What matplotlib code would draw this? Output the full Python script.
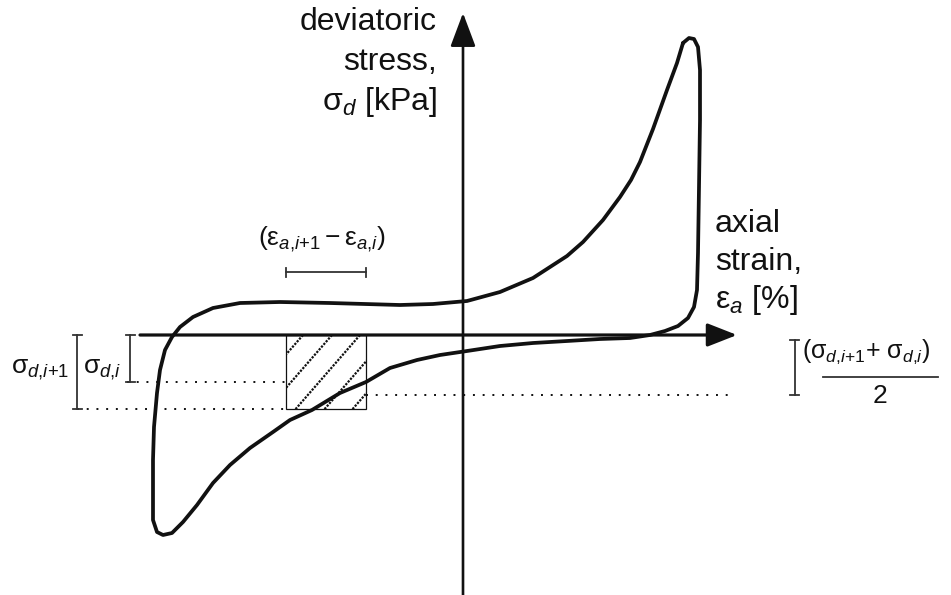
import numpy as np
import matplotlib
matplotlib.use('Agg')
import matplotlib.pyplot as plt
from matplotlib.patches import Rectangle

plt.rcParams['font.family'] = ['Liberation Sans', 'DejaVu Sans']
plt.rcParams['mathtext.fontset'] = 'custom'
plt.rcParams['mathtext.rm'] = 'Liberation Sans'
plt.rcParams['mathtext.it'] = 'Liberation Sans:italic'

# hysteresis loop (strain, stress) in sketch units
loop_strain = [2.18, 2.24, 2.29, 2.33, 2.35, 2.35, 2.34, 2.33, 2.32, 2.29, 2.23, 2.13, 2.00,
               1.85, 1.65, 1.35, 1.02, 0.68, 0.35, 0.02, -0.25, -0.48, -0.75, -0.99,
               -1.25, -1.53, -1.75, -1.92, -2.15, -2.35, -2.52, -2.68, -2.82, -2.93,
               -3.02, -3.08, -3.12, -3.12, -3.12, -3.11, -3.08, -3.05, -3.00, -2.93,
               -2.85, -2.72, -2.52, -2.25, -1.85, -1.35, -0.65, -0.32, 0.02, 0.35,
               0.68, 1.02, 1.18, 1.38, 1.55, 1.66, 1.75, 1.88, 2.02, 2.12, 2.18]
loop_stress = [2.92, 2.97, 2.96, 2.88, 2.65, 2.15, 1.48, 0.82, 0.45, 0.28, 0.17, 0.09, 0.04,
               0.00, -0.03, -0.04, -0.06, -0.08, -0.11, -0.16, -0.20, -0.25, -0.33, -0.47,
               -0.58, -0.75, -0.85, -0.97, -1.13, -1.30, -1.48, -1.70, -1.87, -1.98,
               -2.00, -1.97, -1.85, -1.58, -1.25, -0.92, -0.58, -0.35, -0.15, -0.02,
               0.08, 0.18, 0.27, 0.32, 0.33, 0.32, 0.30, 0.31, 0.34, 0.43,
               0.57, 0.79, 0.93, 1.15, 1.38, 1.55, 1.73, 2.06, 2.45, 2.72, 2.92]

# strain increment and stress levels used in the sketch
eps_i1, eps_i = -1.79, -0.99
sig_i, sig_i1 = -0.47, -0.74
sig_mean = -0.60
hatch_top = [-1.62, -1.33, -1.05, -0.76, -0.48]

fig = plt.figure(figsize=(9.51, 5.95), dpi=100)
ax = fig.add_axes([0, 0, 1, 1])
ax.set_xlim(-4.65, 4.86)
ax.set_ylim(-2.60, 3.35)
ax.axis('off')

ink = '#111111'
grey = '#333333'

# axes arrows
ax.annotate('', xy=(2.72, 0), xytext=(-3.25, 0),
            arrowprops=dict(arrowstyle='-|>,head_length=1.4,head_width=0.55',
                            mutation_scale=13, lw=2.3, color=ink, shrinkA=0, shrinkB=0))
ax.annotate('', xy=(-0.02, 3.22), xytext=(-0.02, -2.62),
            arrowprops=dict(arrowstyle='-|>,head_length=1.6,head_width=0.6',
                            mutation_scale=13, lw=1.9, color=ink, shrinkA=0, shrinkB=0))

# loop
ax.plot(loop_strain, loop_stress, color=ink, lw=2.7, solid_joinstyle='round',
        solid_capstyle='round', zorder=4)

# hatched box
box = Rectangle((eps_i1, sig_i1), eps_i - eps_i1, -sig_i1, fill=False,
                edgecolor=ink, lw=0.9, zorder=3)
ax.add_patch(box)
for t in hatch_top:
    ln, = ax.plot([t, t - 2.0], [0, -2.3], color=ink, lw=1.6,
                  linestyle=(0, (1.0, 0.6)), zorder=3)
    ln.set_clip_path(box)

# dotted guide lines
dot = dict(color=ink, lw=1.4, linestyle=(0, (1, 4)), zorder=2)
ax.plot([-3.38, eps_i1], [sig_i, sig_i], **dot)
ax.plot([-3.88, eps_i1], [sig_i1, sig_i1], **dot)
ax.plot([eps_i, 2.68], [sig_mean, sig_mean], **dot)


def ibar(x0, y0, x1, y1, cap=0.045):
    ax.plot([x0, x1], [y0, y1], color=grey, lw=1.3)
    if x0 == x1:
        for y in (y0, y1):
            ax.plot([x0 - cap, x0 + cap], [y, y], color=grey, lw=1.3)
    else:
        for x in (x0, x1):
            ax.plot([x, x], [y0 - cap, y0 + cap], color=grey, lw=1.3)


ibar(-3.88, 0, -3.88, sig_i1)
ibar(-3.35, 0, -3.35, sig_i)
ibar(eps_i1, 0.63, eps_i, 0.63)
ibar(3.30, -0.05, 3.30, sig_mean)

# axis labels
big = 23
for y, s in zip([3.05, 2.65, 2.25],
                ['deviatoric', 'stress,', r'$\mathrm{\sigma}_{\mathit{d}}$ [kPa]']):
    ax.text(-0.28, y, s, ha='right', va='baseline', fontsize=big, color=ink)
for y, s in zip([1.03, 0.65, 0.27],
                ['axial', 'strain,', r'$\mathrm{\varepsilon}_{\mathit{a}}$ [%]']):
    ax.text(2.50, y, s, ha='left', va='baseline', fontsize=big, color=ink)

small = 19
ax.text(-1.43, 0.90,
        r'$(\mathrm{\varepsilon}_{\mathit{a{,}i{+}1}} - \mathrm{\varepsilon}_{\mathit{a{,}i}})$',
        ha='center', va='baseline', fontsize=small, color=ink)
ax.text(-4.25, -0.38, r'$\mathrm{\sigma}_{\mathit{d{,}i{+}1}}$', ha='center', va='baseline',
        fontsize=small, color=ink)
ax.text(-3.63, -0.38, r'$\mathrm{\sigma}_{\mathit{d{,}i}}$', ha='center', va='baseline',
        fontsize=small, color=ink)
ax.text(3.37, -0.23,
        r'$(\mathrm{\sigma}_{\mathit{d{,}i{+}1}}{+}\ \mathrm{\sigma}_{\mathit{d{,}i}})$',
        ha='left', va='baseline', fontsize=18, color=ink)
ax.plot([3.58, 4.73], [-0.42, -0.42], color=grey, lw=1.3)
ax.text(4.15, -0.68, '2', ha='center', va='baseline', fontsize=small, color=ink)

fig.savefig('out.png', dpi=100, facecolor='white')
